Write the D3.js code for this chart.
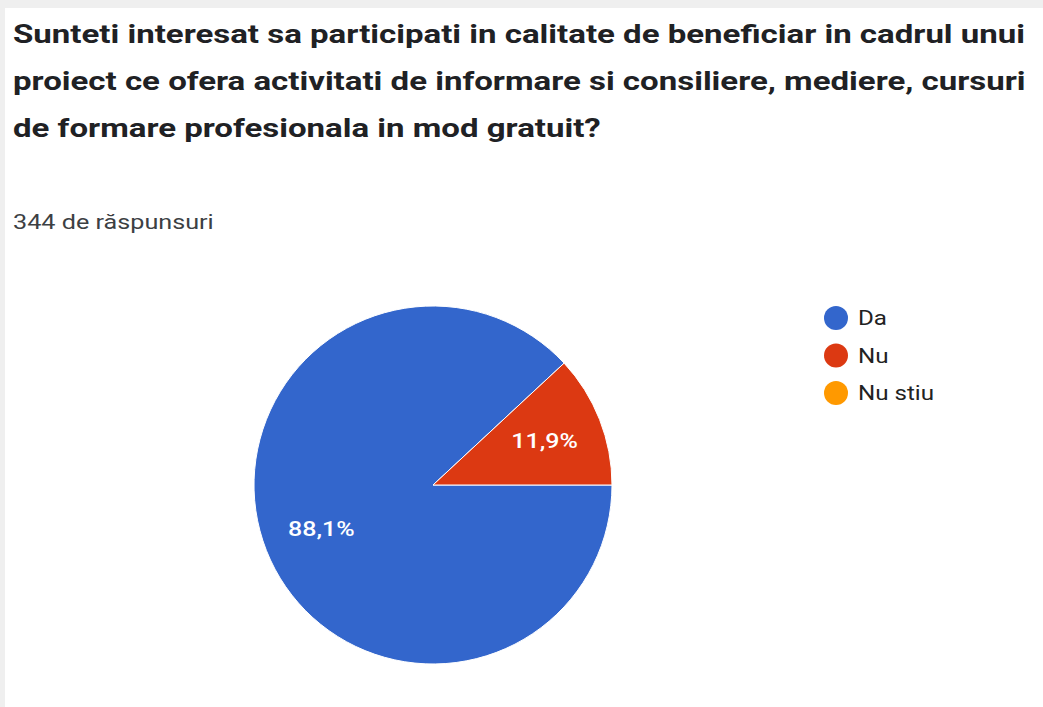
<!DOCTYPE html>
<html>
<head>
<meta charset="utf-8">
<script src="https://cdn.jsdelivr.net/npm/d3@7"></script>
<style>
  html, body { margin: 0; padding: 0; background: #efefef; }
  svg { display: block; }
</style>
</head>
<body>
<div id="chart"></div>
<script>
const titleLines = [
  "Sunteti interesat sa participati in calitate de beneficiar in cadrul unui",
  "proiect ce ofera activitati de informare si consiliere, mediere, cursuri",
  "de formare profesionala in mod gratuit?"
];
const subtitle = "344 de răspunsuri";
const categories = ["Da", "Nu", "Nu stiu"];
const counts = [303, 41, 0];
const colors = ["#3366cc", "#dc3912", "#ff9900"];

const width = 1043;
const height = 707;
const cx = 433, cy = 485, radius = 179;

const svg = d3.select("#chart").append("svg")
  .attr("width", width)
  .attr("height", height);

// card background
svg.append("rect")
  .attr("x", 5).attr("y", 8)
  .attr("width", width - 5).attr("height", height - 8)
  .attr("fill", "#ffffff");

// Title (screenshot text is a bit wider than tall, so scale x)
svg.append("g")
  .selectAll("text")
  .data(titleLines).enter()
  .append("text")
  .attr("transform", (d, i) => "translate(13," + (43 + i * 47) + ") scale(1.27,1)")
  .attr("font-family", "Roboto, Arial, sans-serif")
  .attr("font-weight", "bold")
  .attr("font-size", 26)
  .attr("fill", "#202124")
  .text(d => d);

svg.append("text")
  .attr("transform", "translate(13,229) scale(1.26,1)")
  .attr("font-family", "Roboto, Arial, sans-serif")
  .attr("font-size", 20)
  .attr("fill", "#3c4043")
  .text(subtitle);

// Pie
const total = d3.sum(counts);
const data = categories.map((c, i) => ({ cat: c, value: counts[i], color: colors[i] }));

const pie = d3.pie()
  .sort(null)
  .value(d => d.value)
  .startAngle(Math.PI / 2)
  .endAngle(Math.PI / 2 + 2 * Math.PI);

const arc = d3.arc().innerRadius(0).outerRadius(radius);
const labelArc = d3.arc().innerRadius(radius * 0.67).outerRadius(radius * 0.67);

const gPie = svg.append("g").attr("transform", "translate(" + cx + "," + cy + ")");
const arcs = pie(data).filter(d => d.data.value > 0);

gPie.selectAll("path")
  .data(arcs).enter()
  .append("path")
  .attr("d", arc)
  .attr("fill", d => d.data.color)
  .attr("stroke", "#ffffff")
  .attr("stroke-width", 1);

const fmt = v => (v * 100).toFixed(1).replace(".", ",") + "%";

gPie.selectAll("text")
  .data(arcs).enter()
  .append("text")
  .attr("transform", d => "translate(" + labelArc.centroid(d) + ") scale(1.25,1)")
  .attr("text-anchor", "middle")
  .attr("dy", "0.35em")
  .attr("font-family", "Roboto, Arial, sans-serif")
  .attr("font-weight", 500)
  .attr("font-size", 20)
  .attr("fill", "#ffffff")
  .text(d => fmt(d.data.value / total));

// Legend
const legend = svg.append("g")
  .selectAll("g")
  .data(data).enter()
  .append("g")
  .attr("transform", (d, i) => "translate(836," + (318 + i * 37.5) + ")");

legend.append("circle")
  .attr("r", 12)
  .attr("fill", d => d.color);

legend.append("text")
  .attr("transform", "translate(22,0) scale(1.15,1)")
  .attr("dy", "0.35em")
  .attr("font-family", "Roboto, Arial, sans-serif")
  .attr("font-size", 21)
  .attr("fill", "#222222")
  .text(d => d.cat);
</script>
</body>
</html>
